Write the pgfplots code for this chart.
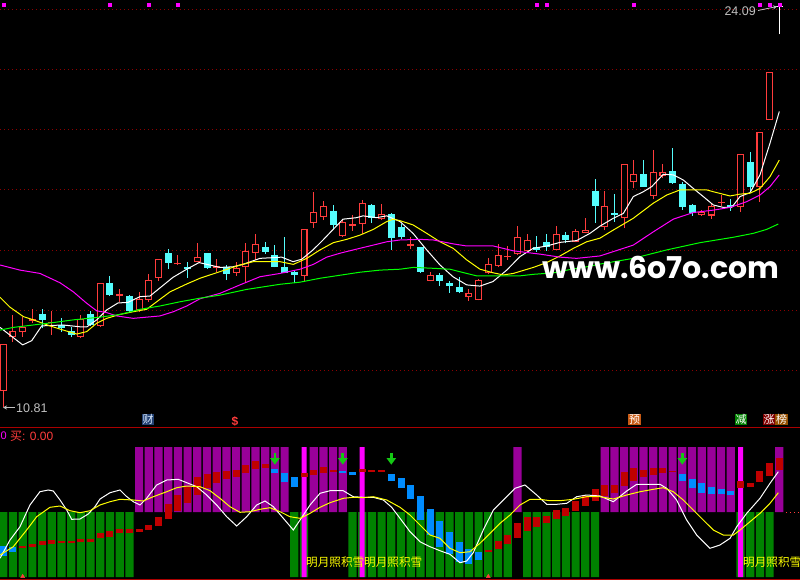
\documentclass[border=0pt]{standalone}
\usepackage{pgfplots}
\pgfplotsset{compat=1.18}
\usepackage{pgfplotstable}
\usetikzlibrary{arrows.meta}
\usepackage{fontspec}
\setmainfont{Liberation Sans}
\newfontfamily\cjk{Noto Sans CJK SC}
\newfontfamily\wmfont{Poppins}

\definecolor{cred}{RGB}{255,60,60}
\definecolor{ccyan}{RGB}{84,252,252}
\definecolor{gridred}{RGB}{140,0,0}
\definecolor{sepred}{RGB}{170,0,0}
\definecolor{barpurple}{RGB}{153,0,153}
\definecolor{bargreen}{RGB}{0,130,0}
\definecolor{rectred}{RGB}{192,0,0}
\definecolor{rectblue}{RGB}{0,140,255}
\definecolor{arrowgreen}{RGB}{20,200,20}
\definecolor{labgray}{RGB}{192,192,192}
\definecolor{mayellow}{RGB}{255,255,0}
\definecolor{mamag}{RGB}{255,0,255}
\definecolor{magreen}{RGB}{0,255,0}

% up (red) candles: index open high low close
\pgfplotstableread{
i o h l c
0 11.34 12.89 10.81 12.89
1 13.13 13.85 12.95 13.31
2 13.30 13.78 13.13 13.46
3 13.66 14.05 13.58 13.71
5 13.58 13.98 13.20 13.63
8 13.13 13.85 13.08 13.72
10 13.49 14.90 13.46 14.90
12 14.48 14.71 14.29 14.55
14 14.02 14.62 13.96 14.37
15 14.35 15.21 14.29 15.01
16 15.09 15.70 14.98 15.70
18 15.53 15.84 15.51 15.59
20 15.62 16.23 15.60 15.77
22 15.42 15.71 15.29 15.48
24 15.25 15.60 15.15 15.41
25 15.43 16.25 14.96 15.97
26 15.92 16.54 15.68 16.20
31 15.15 16.69 14.96 16.69
32 16.91 17.93 16.75 17.26
33 17.11 17.63 17.00 17.47
35 16.48 17.04 16.45 16.93
36 16.81 17.17 16.64 16.87
37 16.86 17.67 16.53 17.56
39 17.03 17.53 17.00 17.19
42 16.15 16.45 16.03 16.21
44 14.99 15.27 14.97 15.17
48 14.46 14.70 14.33 14.57
49 14.36 15.04 14.34 15.00
50 15.23 15.73 15.21 15.53
51 15.49 16.21 15.43 15.83
52 15.77 16.14 15.68 15.81
53 15.86 16.80 15.84 16.43
54 15.98 16.54 15.96 16.34
57 16.02 16.80 16.00 16.53
59 16.28 16.70 16.26 16.64
60 16.58 17.06 16.56 16.67
62 16.78 17.98 16.67 17.47
64 17.06 18.86 16.73 18.86
65 18.27 18.99 18.05 18.53
67 17.80 19.32 17.69 18.60
68 18.47 18.86 18.40 18.58
72 17.17 17.33 17.14 17.26
73 17.15 17.58 17.04 17.48
74 17.56 17.83 17.47 17.60
76 17.44 19.18 17.26 19.18
78 18.09 19.91 17.61 19.91
79 20.32 21.90 20.32 21.90
}\upcandles

% down (cyan) candles
\pgfplotstableread{
i o h l c
4 13.88 14.05 13.41 13.69
6 13.52 13.75 13.29 13.42
7 13.32 13.44 13.11 13.19
9 13.87 13.98 13.49 13.52
11 14.90 15.15 14.48 14.51
13 14.48 14.50 13.96 13.98
17 15.92 16.04 15.37 15.59
19 15.45 15.62 15.09 15.38
21 15.90 15.92 15.39 15.42
23 15.45 15.51 15.01 15.21
27 16.10 16.26 15.87 15.95
28 15.84 16.16 15.43 15.45
29 15.44 16.43 15.23 15.25
30 15.29 15.30 14.90 15.18
34 17.30 17.50 16.69 16.84
38 17.50 17.52 16.91 17.08
40 17.20 17.22 16.01 16.42
41 16.76 16.87 16.36 16.43
43 16.10 16.12 15.25 15.29
45 15.18 15.23 14.81 14.99
46 14.92 14.98 14.59 14.81
47 14.78 15.12 14.57 14.60
55 16.12 16.47 15.95 16.01
56 16.27 16.54 15.98 16.12
58 16.50 16.61 16.23 16.34
61 17.98 18.35 16.91 17.48
63 17.24 17.86 16.95 17.16
66 18.53 18.99 18.10 18.11
69 18.63 19.38 18.20 18.22
70 18.20 18.27 17.33 17.44
71 17.50 17.53 17.15 17.22
75 17.51 17.70 17.31 17.42
77 18.92 19.27 17.94 18.11
}\downcandles

% indicator steps: index bottom top
\pgfplotstableread{
i b t
2 -35.7 -34.2
3 -34.7 -32
4 -33 -29
5 -31.7 -28
6 -30.7 -29
7 -30.7 -29.2
8 -29.7 -27.3
9 -29.7 -27.3
10 -26.3 -21.3
11 -24.7 -19
12 -21.3 -17
13 -20.7 -17.3
14 -19.7 -16.7
15 -18 -13
16 -14 -5.3
17 -7 8
18 1.3 16.7
19 9.3 25.3
20 17 34.7
21 23.7 38
22 29.3 40.3
23 32.7 41
24 35.3 42
25 39.3 47
26 43 51
27 44.3 48.3
31 35.3 39.3
32 37 42
33 39.3 45
34 40.3 42
37 40.3 43
38 40.3 41.8
39 40.3 41.8
50 -39.7 -38
51 -37.3 -29
52 -32 -23
53 -25.7 -10.7
54 -19 -5.3
55 -15.3 -5.3
56 -11.3 -4
57 -7 2
58 -4 3.7
59 1 11.3
60 6 16
61 11 23
62 16 27
63 18.7 27
64 26.3 40.3
65 31 44.3
66 34.7 42
67 37 44.3
68 39.3 44.3
69 40 41.5
76 24.3 31
77 25.3 28.7
78 30.3 41
79 36.3 48.7
80 42 54.3
}\redsteps

\pgfplotstableread{
i b t
0 -44 -34
1 -39.7 -35
28 39.3 42.7
29 30.3 39.3
30 25.3 35.3
35 39.3 41.3
36 37 40.3
40 31 38
41 24.3 33.7
42 13 27
43 -8 16
44 -23 3
45 -35.3 -9
46 -42 -20
47 -49.7 -30
48 -52 -37
49 -48 -39.7
70 31 38
71 24.3 33
72 19.3 28.7
73 18 24.7
74 18 22.7
75 17 21
}\bluesteps

\pgfplotsset{
  stick/.style 2 args={draw=none, no markers, error bars/.cd, y dir=plus, y explicit,
    error mark=none, error bar style={draw=#1, line width=#2}},
}

\begin{document}
\begin{tikzpicture}
\fill[black] (0pt,0pt) rectangle (800pt,-580pt);

% ---------------- price panel ----------------
\begin{axis}[at={(0pt,0pt)}, anchor=north west, scale only axis,
  width=800pt, height=427pt,
  xmin=-0.34, xmax=82.134, ymin=10.136, ymax=24.30,
  axis line style={draw=none}, tick style={draw=none},
  xtick=\empty, ytick={12,14,...,24}, yticklabels={},
  ymajorgrids, grid style={draw=gridred, line width=1pt, dash pattern=on 1pt off 3pt}]

% wicks
\addplot[stick={cred}{1pt}] table[x=i, y=l, y error expr={\thisrow{h}-\thisrow{l}}] {\upcandles};
\addplot[stick={ccyan}{1pt}] table[x=i, y=l, y error expr={\thisrow{h}-\thisrow{l}}] {\downcandles};
% bodies
\addplot[stick={cred}{7pt}] table[x=i, y=o, y error expr={\thisrow{c}-\thisrow{o}}] {\upcandles};
\addplot[stick={black}{4.8pt}] table[x=i, y expr={\thisrow{o}+0.035}, y error expr={max(0,\thisrow{c}-\thisrow{o}-0.07)}] {\upcandles};
\addplot[stick={ccyan}{7pt}] table[x=i, y=c, y error expr={\thisrow{o}-\thisrow{c}}] {\downcandles};
% last (limit-up) bar
\addplot[stick={white}{1pt}] coordinates {(80,23.16) +- (0,0.93)};
\addplot[stick={white}{7pt}] coordinates {(80,24.065) +- (0,0.03)};

% moving averages
\addplot[white, line width=1pt] coordinates {
(-0.34,13.44) (2.0,12.86) (2.93,13.00) (3.96,13.49) (6.15,13.52) (7.91,13.46) (8.63,13.46)
(9.63,13.69) (10.66,14.02) (11.82,14.25) (12.86,14.27) (14.09,14.46) (15.12,14.48) (16.15,14.75)
(17.49,15.10) (18.91,15.37) (20.18,15.59) (22.34,15.43) (23.68,15.45) (24.71,15.53) (26.46,15.73)
(28.70,15.77) (29.87,15.62) (30.76,15.70) (31.93,16.01) (32.96,16.34) (35.02,17.03) (36.43,17.08)
(37.08,17.14) (38.49,17.08) (39.53,17.14) (40.90,16.95) (42.24,16.56) (43.65,16.01) (45.02,15.51)
(46.36,15.12) (47.77,14.85) (49.14,14.81) (50.48,14.96) (51.90,15.34) (53.27,15.79) (54.61,16.06)
(56.02,16.14) (57.39,16.26) (59.11,16.32) (60.48,16.56) (61.52,16.80) (62.89,17.06) (63.92,17.22)
(64.95,17.78) (65.98,17.94) (66.85,18.11) (68.04,18.52) (69.07,18.50) (70.10,18.33) (71.13,18.05)
(72.16,17.78) (73.20,17.50) (74.23,17.42) (75.09,17.42) (75.95,17.78) (76.98,17.91) (78.01,18.50)
(79.04,19.55) (80.0,20.60)};
\addplot[mayellow, line width=1pt] coordinates {
(-0.34,14.44) (0.69,14.11) (2.06,13.80) (3.09,13.69) (4.81,13.49) (6.19,13.35) (7.57,13.22)
(8.60,13.30) (9.63,13.58) (10.66,13.74) (12.03,13.87) (13.40,13.96) (14.78,14.04) (15.81,14.29)
(17.19,14.62) (18.91,14.88) (20.28,15.07) (22.34,15.29) (24.40,15.51) (25.77,15.62) (28.53,15.62)
(29.90,15.53) (31.28,15.73) (32.65,16.01) (34.02,16.25) (35.40,16.36) (36.77,16.50) (38.14,16.69)
(39.53,16.95) (40.21,17.03) (40.90,16.98) (42.24,16.84) (43.65,16.56) (45.02,16.28) (46.39,16.06)
(47.77,15.68) (49.14,15.37) (50.52,15.25) (51.55,15.18) (52.58,15.23) (54.64,15.43) (56.02,15.59)
(57.39,15.81) (58.76,16.06) (60.14,16.28) (61.51,16.40) (62.89,16.67) (64.95,17.06) (67.01,17.56)
(68.39,17.83) (69.76,18.00) (71.13,18.00) (72.52,18.00) (73.20,17.94) (74.92,17.80) (75.95,17.86)
(76.98,17.89) (78.01,18.05) (79.04,18.44) (80.0,18.99)};
\addplot[mamag, line width=1pt] coordinates {
(-0.34,15.51) (1.72,15.34) (3.78,15.23) (5.85,14.92) (7.22,14.62) (8.60,14.24) (9.63,13.99)
(10.66,13.93) (11.69,13.82) (13.40,13.74) (14.78,13.78) (16.15,13.82) (17.53,13.96) (18.91,14.15)
(20.28,14.39) (22.34,14.57) (24.40,14.85) (26.46,15.12) (28.53,15.23) (30.59,15.37) (31.96,15.53)
(33.34,15.77) (34.71,15.90) (36.08,16.01) (38.14,16.17) (39.53,16.28) (40.90,16.34) (42.96,16.36)
(44.33,16.34) (46.39,16.21) (47.77,16.14) (50.52,16.14) (52.58,15.98) (55.34,15.87) (57.39,15.77)
(59.11,15.73) (61.51,15.81) (64.95,16.17) (67.01,16.61) (69.07,17.03) (71.13,17.25) (73.20,17.33)
(74.92,17.42) (76.64,17.61) (78.01,17.83) (79.04,18.11) (80.0,18.50)};
\addplot[magreen, line width=1pt] coordinates {
(-0.34,13.35) (1.03,13.44) (3.09,13.52) (5.15,13.60) (7.22,13.69) (9.97,13.78) (12.03,13.87)
(14.09,14.04) (16.15,14.15) (18.22,14.29) (20.28,14.41) (22.34,14.51) (25.09,14.70) (28.53,14.87)
(30.59,14.94) (32.65,15.07) (34.71,15.17) (36.77,15.27) (38.84,15.34) (40.90,15.37) (42.27,15.43)
(44.33,15.40) (46.05,15.37) (47.77,15.23) (48.80,15.15) (53.27,15.15) (54.64,15.20) (56.70,15.25)
(58.76,15.38) (60.14,15.45) (61.51,15.54) (64.95,15.73) (68.39,16.01) (71.82,16.25) (75.26,16.43)
(77.32,16.56) (78.69,16.69) (79.90,16.87)};

% signal squares along the top
\addplot[only marks, mark=square*, mark size=1.5pt, color=mamag] coordinates {
(0,24.15) (11,24.15) (15,24.15) (18,24.15) (55,24.15) (56,24.15) (65,24.15) (78,24.15) (79,24.15) (80,24.15)};
\end{axis}

% ---------------- indicator panel ----------------
\begin{axis}[at={(0pt,-428pt)}, anchor=north west, scale only axis,
  width=800pt, height=152pt,
  xmin=-0.34, xmax=82.134, ymin=-68, ymax=84,
  axis line style={draw=none}, tick style={draw=none}, xtick=\empty, ytick=\empty]

\addplot[ybar, bar width=8.2pt, fill=barpurple, draw=none] coordinates {
(14,65) (15,65) (16,65) (17,65) (18,65) (19,65) (20,65) (21,65) (22,65) (23,65) (24,65) (25,65)
(26,65) (27,65) (28,65) (29,65) (32,65) (33,65) (34,65) (35,65) (53,65)
(62,65) (63,65) (64,65) (65,65) (66,65) (67,65) (68,65) (69,65) (70,65) (71,65) (72,65) (73,65)
(74,65) (75,65) (80,65)};
\addplot[ybar, bar width=8.2pt, fill=bargreen, draw=none] coordinates {
(0,-65) (1,-65) (2,-65) (3,-65) (4,-65) (5,-65) (6,-65) (7,-65) (8,-65) (9,-65) (10,-65) (11,-65)
(12,-65) (13,-65) (30,-65) (31,-65) (36,-65) (37,-65) (38,-65) (39,-65) (40,-65) (41,-65) (42,-65)
(43,-65) (44,-65) (45,-65) (46,-65) (47,-65) (48,-65) (49,-65) (50,-65) (51,-65) (52,-65)
(54,-65) (55,-65) (56,-65) (57,-65) (58,-65) (59,-65) (60,-65) (61,-65)
(76,-65) (77,-65) (78,-65) (79,-65)};
\addplot[ybar, bar width=5pt, fill=mamag, draw=none] coordinates {
(31,65) (31,-65) (37,65) (37,-65) (76,65) (76,-65)};

\addplot[stick={rectred}{7pt}] table[x=i, y=b, y error expr={\thisrow{t}-\thisrow{b}}] {\redsteps};
\addplot[stick={rectblue}{7pt}] table[x=i, y=b, y error expr={\thisrow{t}-\thisrow{b}}] {\bluesteps};

\addplot[white, line width=1pt] coordinates {
(-0.34,-46.3) (0.69,-28) (1.72,-14.7) (2.75,7) (3.78,20.3) (4.64,22) (5.15,21) (5.85,12) (6.54,2)
(7.05,-7.3) (7.91,-7) (8.76,-2) (9.45,5.3) (9.97,13) (11.0,19.3) (12.03,22) (12.65,16) (13.40,10.3)
(14.09,7) (14.78,13.7) (15.81,27) (16.85,32) (18.04,32.7) (19.07,28.7) (19.94,25.3) (20.97,17)
(22.0,7) (23.03,-4.7) (24.06,-14) (25.09,-4.7) (26.12,7) (26.98,11) (27.84,5.3) (28.87,-6.3)
(29.90,-18) (30.59,-8) (31.62,7) (32.65,18.7) (33.68,21.3) (35.05,21.3) (36.08,15.3) (37.11,14.7)
(38.14,14.7) (39.18,12) (40.04,4.7) (40.90,-6.3) (41.93,-19.7) (42.96,-29.7) (43.99,-34.7)
(45.02,-38.7) (46.05,-42.3) (47.08,-50.7) (47.77,-49) (48.45,-40.7) (49.48,-18) (50.52,2)
(51.55,12) (52.75,23.7) (53.78,27) (54.99,17) (56.02,7.7) (57.05,7.7) (58.08,8.7) (59.11,15.3)
(60.14,17) (61.51,16) (62.89,10.3) (64.27,21) (65.30,27.7) (66.33,27.7) (67.70,27.7) (68.39,23.7)
(69.42,12) (70.45,-8) (71.48,-23) (72.85,-36.3) (73.88,-33) (74.92,-26.3) (75.61,-14.7)
(76.64,-1.3) (78.01,13.7) (79.04,28.7) (79.90,40.3)};
\addplot[mayellow, line width=1pt] coordinates {
(-0.34,-43) (1.03,-34.7) (2.41,-18) (3.44,-4.7) (4.81,4.7) (5.85,6) (6.88,1.3) (7.91,-0.7)
(8.94,1.3) (9.97,7) (11.0,10.3) (12.03,12.7) (13.40,12) (14.43,11) (15.46,15.3) (16.85,20.3)
(17.88,24.3) (18.91,26) (20.28,25.3) (21.31,21.3) (22.34,13.7) (23.37,5.3) (24.40,-0.3)
(25.43,0.3) (26.46,2.7) (27.49,4.3) (28.53,0.3) (29.56,-4.7) (30.59,-6.3) (31.62,-1.3)
(32.65,4.7) (33.68,9.3) (35.05,13.7) (36.08,14.7) (37.11,14.3) (38.14,15.3) (39.53,12)
(40.90,4.7) (41.93,-3) (42.96,-13) (43.99,-23) (45.02,-26.3) (46.05,-36.3) (47.08,-40.7)
(48.11,-39.7) (49.14,-31.3) (50.18,-21.3) (51.21,-11.3) (52.24,-3) (53.27,7) (54.30,12.7)
(55.33,12.7) (56.36,11.3) (57.39,11.3) (58.76,12.7) (60.14,15.3) (61.51,15.3) (62.89,13)
(64.27,17) (65.64,20.3) (67.01,22.7) (68.04,24.3) (69.07,20.3) (70.10,12) (71.13,2) (72.16,-8)
(73.20,-18) (74.23,-23) (75.26,-23) (75.95,-18) (76.98,-9.7) (78.01,-1.3) (79.04,8.7) (79.90,19.3)};

\addplot[quiver={u=0,v=-12}, arrowgreen, line width=2.8pt,
  -{Triangle[width=9pt,length=6.5pt]}] coordinates {(28,59.3) (35,59.3) (40,59.3) (70,59.3)};
\addplot[only marks, mark=triangle*, mark size=2.3pt, color=cred] coordinates {(2,-64.5) (50,-64.5)};
\addplot[cred, line width=1pt, dash pattern=on 1pt off 3pt] coordinates {(80.7,0) (82.2,0)};
\end{axis}

% ---------------- annotations (pixel coordinates) ----------------
\begin{scope}[x=1pt, y=-1pt]
\draw[sepred, line width=1pt] (0,427.5) -- (800,427.5);
\draw[sepred, line width=1pt] (0,579) -- (800,579);

\node[anchor=base west, inner sep=0, text=white,
  font=\wmfont\bfseries\fontsize{30}{30}\selectfont] at (542,278.3) {www.6o7o.com};

\node[anchor=east, inner sep=0, text=labgray, font=\fontsize{12.5}{12.5}\selectfont] at (756,11.5) {24.09};
\draw[labgray, line width=0.8pt, -{Stealth[length=4pt,width=4pt]}] (758,10.5) -- (777,6.5);
\draw[labgray, line width=0.8pt, -{Stealth[length=4pt,width=4pt]}] (15,407.5) -- (3,407.5);
\node[anchor=west, inner sep=0, text=labgray, font=\fontsize{12.5}{12.5}\selectfont] at (16,408) {10.81};

\node[fill={rgb,255:red,35;green,65;blue,115}, text={rgb,255:red,220;green,235;blue,255}, inner sep=0.6pt,
  font=\cjk\fontsize{11}{11}\selectfont] at (148,419.5) {财};
\node[inner sep=0, text=cred, font=\bfseries\fontsize{12}{12}\selectfont] at (235,421) {\$};
\node[fill={rgb,255:red,200;green,90;blue,20}, text=white, inner sep=0.6pt,
  font=\cjk\fontsize{11}{11}\selectfont] at (634.5,419.5) {预};
\node[fill={rgb,255:red,0;green,128;blue,0}, text=white, inner sep=0.6pt,
  font=\cjk\fontsize{11}{11}\selectfont] at (741,419.5) {减};
\node[fill={rgb,255:red,128;green,0;blue,0}, text=white, inner sep=0.6pt,
  font=\cjk\fontsize{11}{11}\selectfont] at (769,419.5) {涨};
\node[fill={rgb,255:red,150;green,80;blue,0}, text=white, inner sep=0.6pt,
  font=\cjk\fontsize{11}{11}\selectfont] at (781.5,419.5) {榜};

\node[anchor=west, inner sep=0, text=mamag, font=\fontsize{11}{11}\selectfont] at (0.5,436) {0};
\node[anchor=west, inner sep=0, text=cred, font=\fontsize{12}{12}\selectfont] at (10,436) {{\cjk 买}: 0.00};

\node[anchor=west, inner sep=0, text=mayellow, font=\cjk\fontsize{11.6}{11.6}\selectfont] at (306,562) {明月照积雪};
\node[anchor=west, inner sep=0, text=mayellow, font=\cjk\fontsize{11.6}{11.6}\selectfont] at (364,562) {明月照积雪};
\node[anchor=west, inner sep=0, text=mayellow, font=\cjk\fontsize{11.6}{11.6}\selectfont] at (743,562) {明月照积雪};
\end{scope}

\pgfresetboundingbox
\useasboundingbox (0pt,0pt) rectangle (800pt,-580pt);
\end{tikzpicture}
\end{document}
